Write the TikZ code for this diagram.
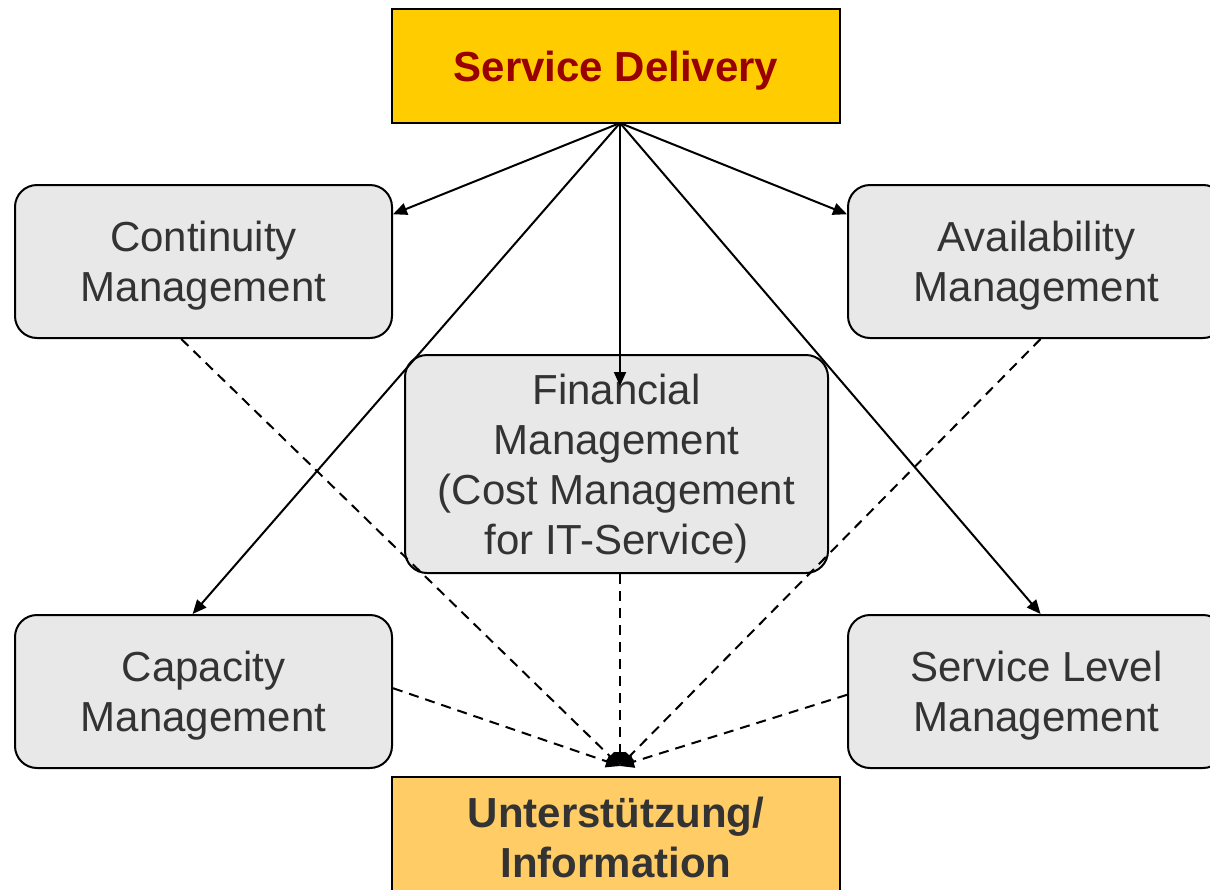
\documentclass[tikz,border=0pt]{standalone}
\usepackage{fontspec}
\setmainfont{Liberation Sans}
\usetikzlibrary{arrows.meta}

\definecolor{sdyellow}{RGB}{255,204,0}
\definecolor{sdred}{RGB}{153,0,0}
\definecolor{infoorange}{RGB}{255,204,102}
\definecolor{procgrey}{RGB}{232,232,232}
\definecolor{txtgrey}{RGB}{51,51,51}

\tikzset{every picture/.style={line width=1pt}}
\tikzset{
  procbox/.style={draw, rounded corners=11pt, fill=procgrey, text=txtgrey, align=center, text depth=0pt,
    minimum width=188.5pt, minimum height=76.5pt, font=\fontsize{21}{25}\selectfont},
  headbox/.style={draw, align=center, minimum width=224pt, font=\bfseries\fontsize{21}{25}\selectfont},
  feed/.style={-{Triangle[length=7pt,width=6pt]}},
  info/.style={dash pattern=on 5pt off 3.5pt, -{Triangle[length=7pt,width=6pt]}},
}

\begin{document}
\begin{tikzpicture}[x=0.5pt,y=0.5pt,yscale=-1]
\useasboundingbox (0,0) rectangle (1210,889);
\clip (0,0) rectangle (1210,889);

%Shape: Rectangle [top]
\node [headbox, fill=sdyellow, text=sdred, text depth=0pt, minimum height=57pt] (sd) at (616,66) {Service Delivery};
%Shape: Rectangle [bottom]
\node [headbox, fill=infoorange, text=txtgrey, minimum height=60pt] (unt) at (616,837) {Unterstützung/\\Information};

%Shape: Rounded Rect
\node [procbox] (cont) at (203.5,261.5) {Continuity\\Management};
\node [procbox] (avail) at (1036.5,261.5) {Availability\\Management};
\node [procbox] (cap) at (203.5,691.5) {Capacity\\Management};
\node [procbox] (slm) at (1036.5,691.5) {Service Level\\Management};
\node [procbox, minimum width=211.5pt, minimum height=109pt] (fin) at (616.5,464)
  {Financial\\Management\\(Cost Management\\for IT-Service)};

\coordinate (src) at (620,123);
\coordinate (finin) at (620,386);
\coordinate (sink) at (620,766);

%Straight Lines
\draw [feed] (src) -- (cont.14);
\draw [feed] (src) -- (avail.166);
\draw [feed] (src) -- (finin);
\draw [feed] (src) -- (cap.98);
\draw [feed] (src) -- (slm.87);

%Dashed Lines
\draw [info] (cont.254) -- (sink);
\draw [info] (avail.273) -- (sink);
\draw [info] (fin.south) ++(3.5,0) -- (sink);
\draw [info] (cap.1) -- (sink);
\draw [info] (slm.181) -- (sink);

\end{tikzpicture}
\end{document}
